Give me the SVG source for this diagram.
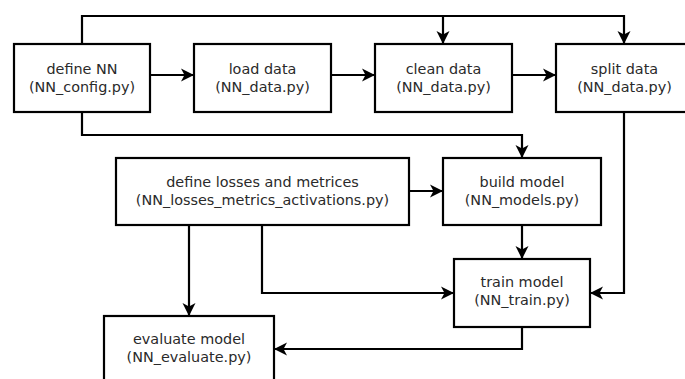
<svg xmlns="http://www.w3.org/2000/svg" width="685" height="379" viewBox="0 0 685 379">
<defs>
<style>
.box{fill:#fff;stroke:#000;stroke-width:2.2}
.lbl{font-family:"DejaVu Sans",sans-serif;font-size:14.4px;fill:#2a2a2a;text-anchor:middle}
.con{fill:none;stroke:#000;stroke-width:2.2}
</style>
<marker id="ah" markerUnits="userSpaceOnUse" markerWidth="14" markerHeight="14" refX="13" refY="7" orient="auto" viewBox="0 0 14 14">
<path d="M0,0.5 L13,7 L0,13.5 L3.5,7 z" fill="#000"/>
</marker>
</defs>
<rect width="685" height="379" fill="#fff"/>
<g id="connectors">
<path class="con" d="M82,44 V16 H624 V44" marker-end="url(#ah)"/>
<path class="con" d="M443,16 V44" marker-end="url(#ah)"/>
<path class="con" d="M150,75 H194" marker-end="url(#ah)"/>
<path class="con" d="M331,75 H375" marker-end="url(#ah)"/>
<path class="con" d="M512,75 H556" marker-end="url(#ah)"/>
<path class="con" d="M82,112 V135 H522 V158" marker-end="url(#ah)"/>
<path class="con" d="M409,191 H443" marker-end="url(#ah)"/>
<path class="con" d="M522,225 V259" marker-end="url(#ah)"/>
<path class="con" d="M624,112 V293 H590" marker-end="url(#ah)"/>
<path class="con" d="M262,225 V293 H454" marker-end="url(#ah)"/>
<path class="con" d="M189,225 V316" marker-end="url(#ah)"/>
<path class="con" d="M522,327 V349 H274" marker-end="url(#ah)"/>
</g>
<g id="define_nn">
<rect class="box" x="14" y="44" width="136" height="68"/>
<text class="lbl" x="82" y="74">define NN</text>
<text class="lbl" x="82" y="92">(NN_config.py)</text>
</g>
<g id="load_data">
<rect class="box" x="194" y="44" width="137" height="68"/>
<text class="lbl" x="262.5" y="74">load data</text>
<text class="lbl" x="262.5" y="92">(NN_data.py)</text>
</g>
<g id="clean_data">
<rect class="box" x="375" y="44" width="137" height="68"/>
<text class="lbl" x="443.5" y="74">clean data</text>
<text class="lbl" x="443.5" y="92">(NN_data.py)</text>
</g>
<g id="split_data">
<rect class="box" x="556" y="44" width="137" height="68"/>
<text class="lbl" x="624.5" y="74">split data</text>
<text class="lbl" x="624.5" y="92">(NN_data.py)</text>
</g>
<g id="define_losses">
<rect class="box" x="116" y="158" width="293" height="67"/>
<text class="lbl" x="262.5" y="187">define losses and metrices</text>
<text class="lbl" x="262.5" y="205">(NN_losses_metrics_activations.py)</text>
</g>
<g id="build_model">
<rect class="box" x="443" y="158" width="158" height="67"/>
<text class="lbl" x="522" y="187">build model</text>
<text class="lbl" x="522" y="205">(NN_models.py)</text>
</g>
<g id="train_model">
<rect class="box" x="454" y="259" width="136" height="68"/>
<text class="lbl" x="522" y="287">train model</text>
<text class="lbl" x="522" y="305">(NN_train.py)</text>
</g>
<g id="evaluate_model">
<rect class="box" x="104" y="316" width="170" height="80"/>
<text class="lbl" x="189" y="344">evaluate model</text>
<text class="lbl" x="189" y="362">(NN_evaluate.py)</text>
</g>
</svg>
